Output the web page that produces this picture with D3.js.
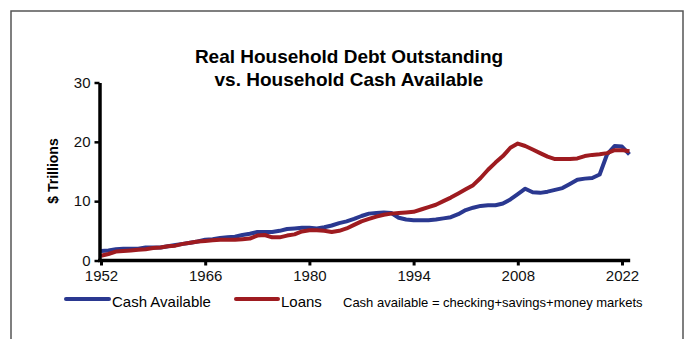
<!DOCTYPE html>
<html>
<head>
<meta charset="utf-8">
<script src="https://cdn.jsdelivr.net/npm/d3@7"></script>
<style>
  body { margin: 0; background: #fff; }
  svg { display: block; font-family: "Liberation Sans", Arial, sans-serif; }
</style>
</head>
<body>
<div id="chart"></div>
<script>
// data ($ trillions, yearly)
var years = d3.range(1952, 2024);

var cash = [1.6, 1.7, 1.9, 2.0, 2.0, 2.0, 2.2, 2.2, 2.2, 2.4,
  2.6, 2.8, 3.0, 3.2, 3.5, 3.6, 3.8, 3.9, 4.0, 4.3,
  4.5, 4.8, 4.8, 4.8, 5.0, 5.3, 5.4, 5.5, 5.5, 5.4,
  5.6, 5.9, 6.3, 6.6, 7.0, 7.5, 7.9, 8.0, 8.1, 8.0,
  7.2, 6.9, 6.8, 6.8, 6.8, 6.9, 7.1, 7.3, 7.8, 8.5,
  8.9, 9.2, 9.3, 9.3, 9.6, 10.3, 11.2, 12.1, 11.5, 11.4,
  11.6, 11.9, 12.2, 12.9, 13.6, 13.8, 13.9, 14.5, 17.9, 19.3,
  19.2, 17.9];

var loans = [0.8, 1.1, 1.5, 1.6, 1.7, 1.8, 1.9, 2.1, 2.2, 2.4,
  2.5, 2.8, 3.0, 3.2, 3.3, 3.4, 3.5, 3.5, 3.5, 3.6,
  3.7, 4.2, 4.3, 3.9, 3.9, 4.2, 4.4, 4.9, 5.1, 5.1,
  5.0, 4.8, 5.0, 5.4, 6.0, 6.6, 7.0, 7.4, 7.7, 7.9,
  8.0, 8.1, 8.2, 8.6, 9.0, 9.4, 10.0, 10.6, 11.3, 12.0,
  12.7, 13.9, 15.3, 16.5, 17.6, 19.0, 19.7, 19.3, 18.7, 18.1,
  17.5, 17.1, 17.1, 17.1, 17.2, 17.6, 17.8, 17.9, 18.1, 18.6,
  18.6, 18.4];

var xTicks = [1952, 1966, 1980, 1994, 2008, 2022];
var yTicks = [0, 10, 20, 30];

var svgWidth = 685;
var svgHeight = 339;

var blue = "#2a3890";
var red = "#9e1b20";

var svg = d3.select("#chart")
  .append("svg")
  .attr("width", svgWidth)
  .attr("height", svgHeight);

// outer frame
svg.append("rect")
  .attr("x", 11)
  .attr("y", 11)
  .attr("width", 672)
  .attr("height", 340)
  .attr("fill", "none")
  .attr("stroke", "#555")
  .attr("stroke-width", 1.5);

// scales
var x = d3.scaleLinear()
  .domain([1952, 2022])
  .range([101, 622]);

var y = d3.scaleLinear()
  .domain([0, 30])
  .range([260.5, 82.5]);

// title
var title = svg.append("text")
  .attr("text-anchor", "middle")
  .attr("font-size", "19px")
  .attr("font-weight", "bold")
  .attr("fill", "#000");
title.append("tspan").attr("x", 349).attr("y", 63).text("Real Household Debt Outstanding");
title.append("tspan").attr("x", 349).attr("y", 86).text("vs. Household Cash Available");

// lines
var line = function(vals) {
  return d3.line()
    .x((d, i) => x(years[i]))
    .y(d => y(d))(vals);
};

svg.append("path")
  .attr("d", line(cash))
  .attr("fill", "none")
  .attr("stroke", blue)
  .attr("stroke-width", 4)
  .attr("stroke-linejoin", "round");

svg.append("path")
  .attr("d", line(loans))
  .attr("fill", "none")
  .attr("stroke", red)
  .attr("stroke-width", 4)
  .attr("stroke-linejoin", "round");

// x axis
var xAxis = svg.append("g")
  .attr("transform", `translate(0, ${y(0)})`)
  .call(d3.axisBottom(x).tickValues(xTicks).tickFormat(d3.format("d")).tickSize(5).tickSizeOuter(0));

xAxis.select(".domain")
  .attr("d", `M${x(1952) - 3},0H${x(2023.1)}`)
  .attr("stroke-width", 3.5);
xAxis.selectAll(".tick line").attr("stroke-width", 3).attr("y2", 5);
xAxis.selectAll(".tick text")
  .attr("y", 10)
  .attr("dy", "0.71em")
  .attr("font-size", "15px")
  .attr("font-family", "Liberation Sans, Arial, sans-serif")
  .attr("fill", "#111");

// y axis
var yAxis = svg.append("g")
  .attr("transform", `translate(${x(1952) - 1.5}, 0)`)
  .call(d3.axisLeft(y).tickValues(yTicks).tickSize(5).tickSizeOuter(0));

yAxis.select(".domain").attr("stroke-width", 3.5);
yAxis.selectAll(".tick line").attr("stroke-width", 2.5);
yAxis.selectAll(".tick text")
  .attr("x", -9)
  .attr("font-size", "15px")
  .attr("font-family", "Liberation Sans, Arial, sans-serif")
  .attr("fill", "#111");

// y axis label
svg.append("text")
  .attr("transform", "translate(58, 171) rotate(-90)")
  .attr("text-anchor", "middle")
  .attr("font-size", "14px")
  .attr("font-weight", "bold")
  .text("$ Trillions");

// legend
var legend = svg.append("g");

legend.append("line")
  .attr("x1", 66).attr("x2", 109)
  .attr("y1", 299).attr("y2", 299)
  .attr("stroke", blue).attr("stroke-width", 4).attr("stroke-linecap", "round");
legend.append("text")
  .attr("x", 112).attr("y", 307)
  .attr("font-size", "15px")
  .text("Cash Available");

legend.append("line")
  .attr("x1", 236).attr("x2", 278)
  .attr("y1", 299).attr("y2", 299)
  .attr("stroke", red).attr("stroke-width", 4).attr("stroke-linecap", "round");
legend.append("text")
  .attr("x", 281).attr("y", 307)
  .attr("font-size", "15px")
  .text("Loans");

legend.append("text")
  .attr("x", 343).attr("y", 307)
  .attr("font-size", "13px")
  .text("Cash available = checking+savings+money markets");
</script>
</body>
</html>
